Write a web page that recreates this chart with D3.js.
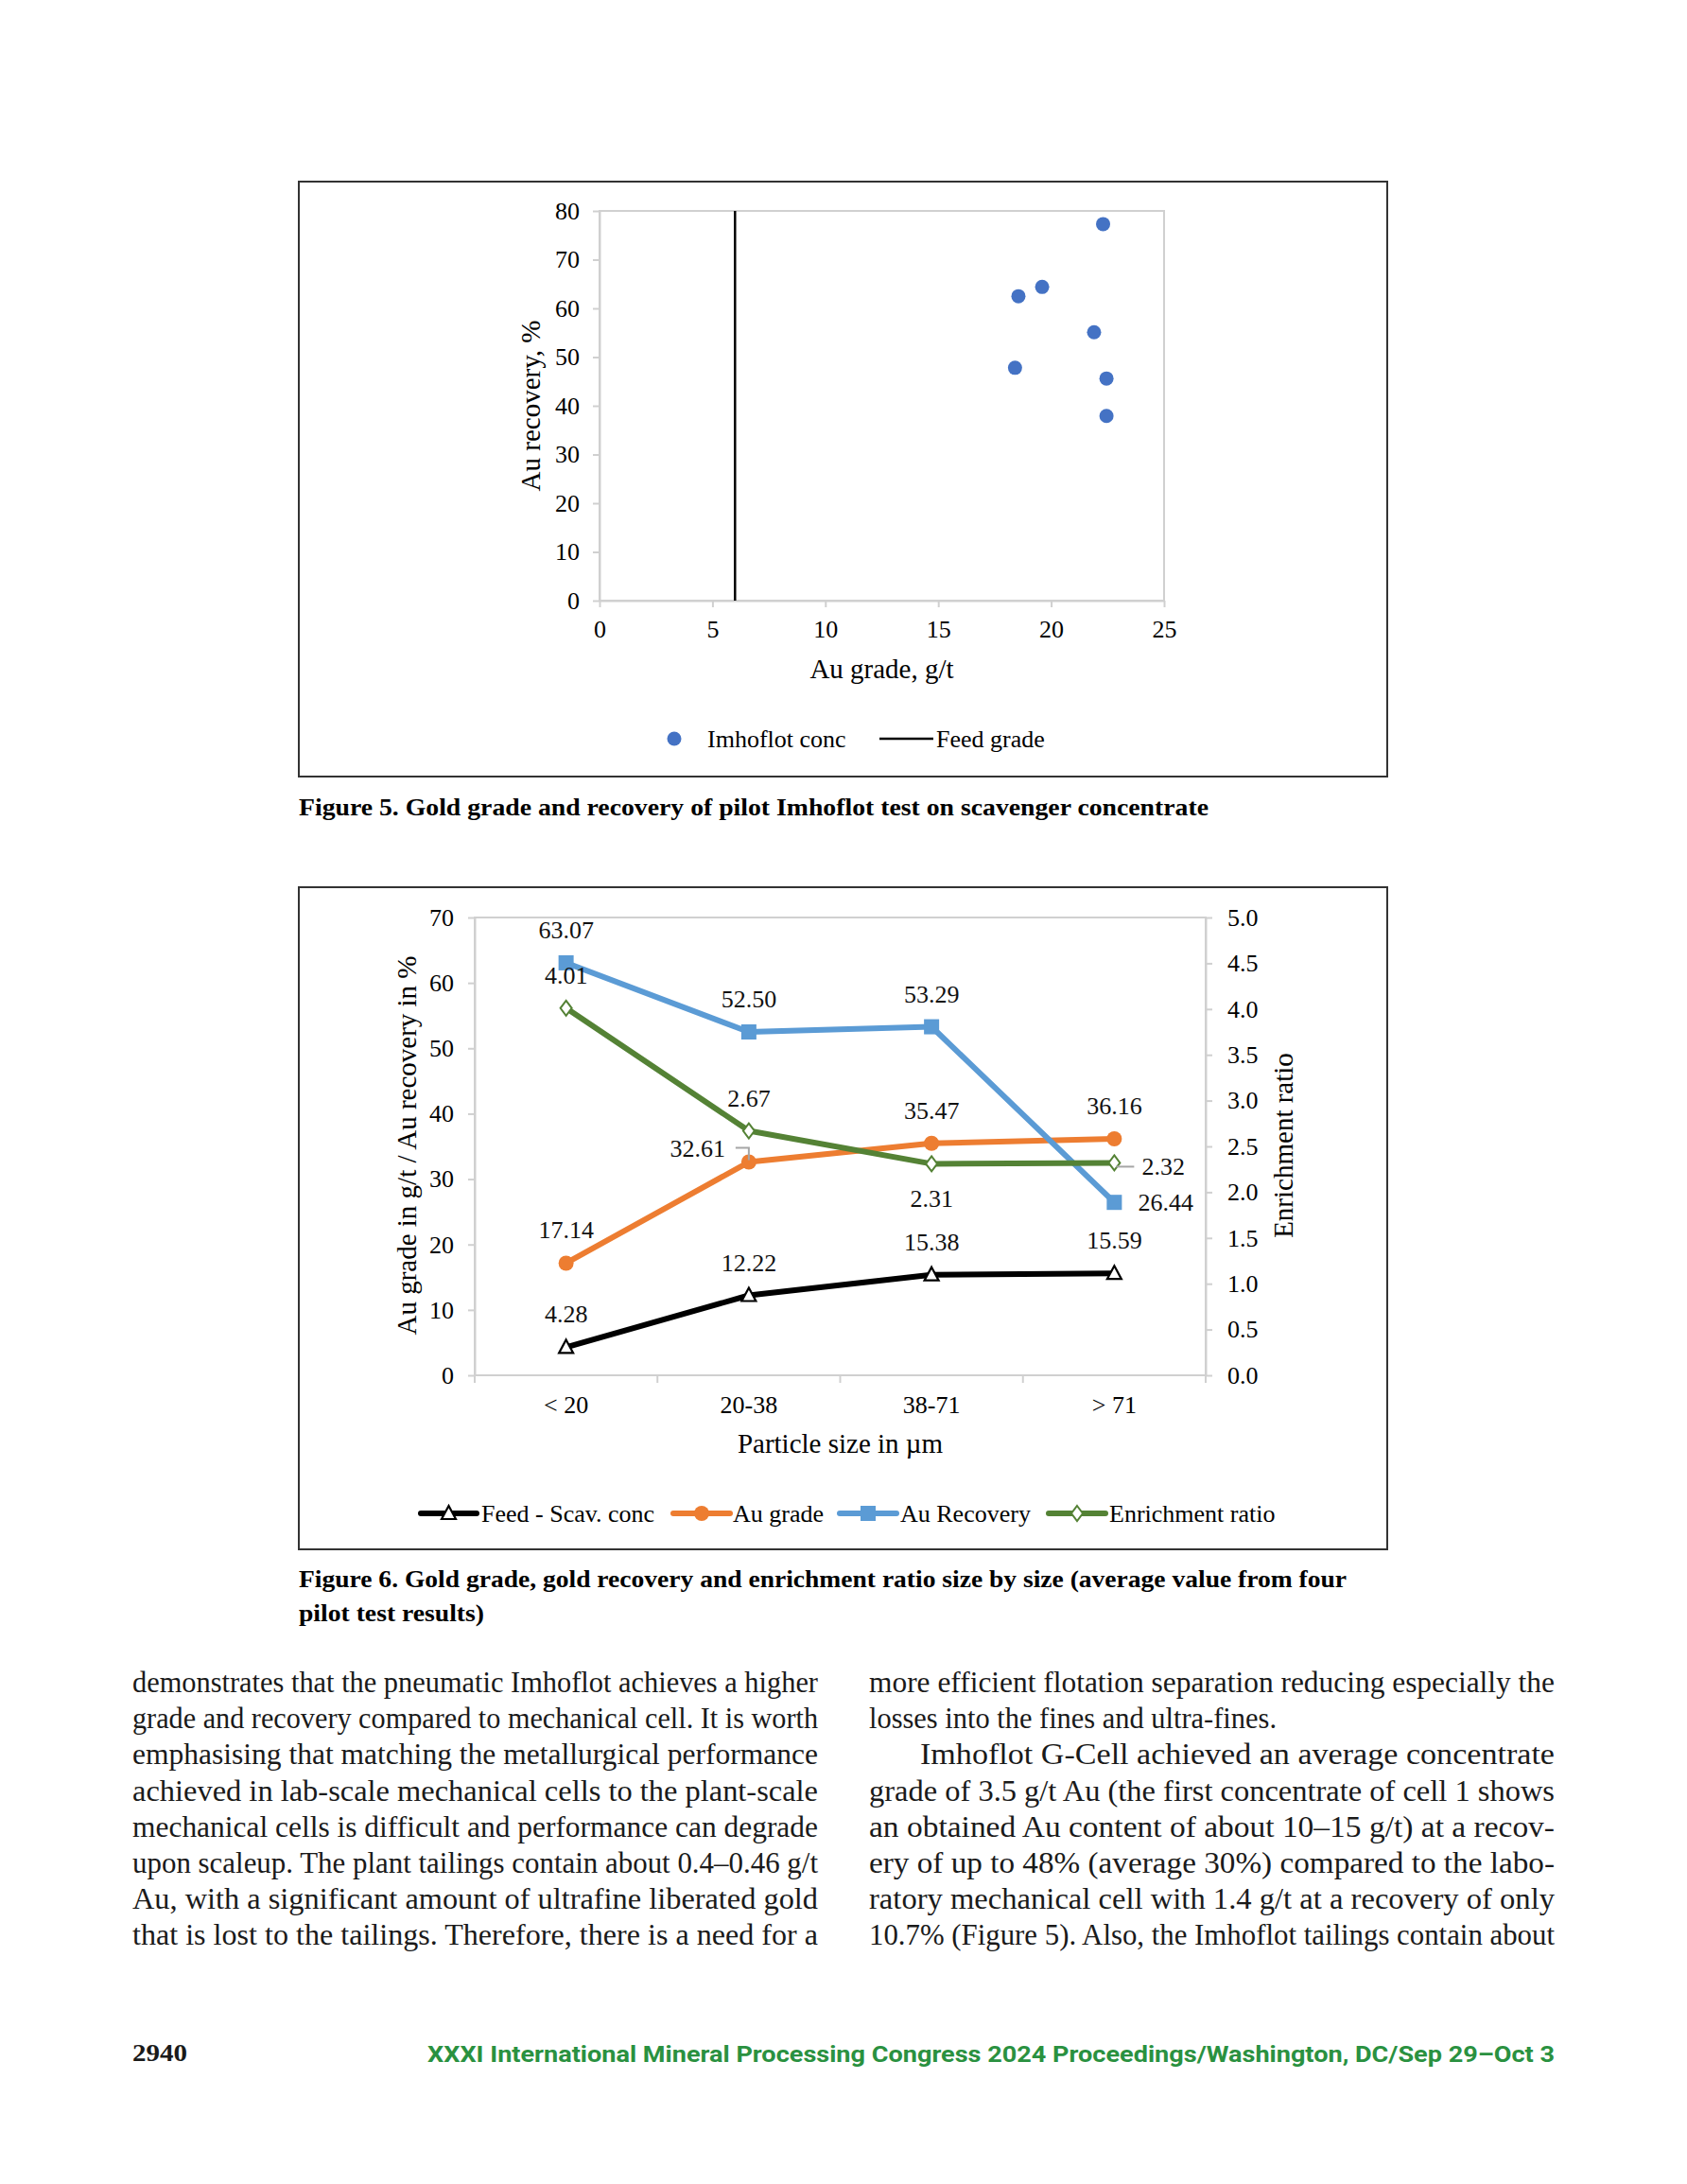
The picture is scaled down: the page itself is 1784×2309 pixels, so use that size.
<!DOCTYPE html>
<html><head><meta charset="utf-8">
<script src="https://cdn.jsdelivr.net/npm/d3@7/dist/d3.min.js"></script>
<style>
html,body{margin:0;padding:0;background:#fff;}
</style></head><body>
<svg id="page" width="1784" height="2309" font-family="'Liberation Serif','Times New Roman',serif"></svg>
<script>
// ---------- Figure 5 data ----------
const fig5Grade    = [22.3, 19.6, 18.55, 21.9, 18.4, 22.45, 22.45];
const fig5Recovery = [77.3, 64.4, 62.5, 55.1, 47.8, 45.6, 37.9];
const fig5FeedGrade = 6.0;
const fig5XTicks = [0, 5, 10, 15, 20, 25];
const fig5YTicks = [0, 10, 20, 30, 40, 50, 60, 70, 80];

// ---------- Figure 6 data ----------
const fig6Sizes      = ["< 20", "20-38", "38-71", "> 71"];
const fig6Feed       = [4.28, 12.22, 15.38, 15.59];
const fig6Grade      = [17.14, 32.61, 35.47, 36.16];
const fig6Recovery   = [63.07, 52.50, 53.29, 26.44];
const fig6Enrichment = [4.01, 2.67, 2.31, 2.32];
const fig6LeftTicks  = [0, 10, 20, 30, 40, 50, 60, 70];
const fig6RightTicks = [0, 0.5, 1, 1.5, 2, 2.5, 3, 3.5, 4, 4.5, 5];

// label placement per point (style only)
const fig6FeedPos       = ["above", "above", "above", "above"];
const fig6GradePos      = ["above", "leftLeader", "above", "above"];
const fig6RecoveryPos   = ["above", "above", "above", "right"];
const fig6EnrichmentPos = ["above", "above", "below", "rightLeader"];

const SERIF = "'Liberation Serif','Times New Roman',serif";
const svg = d3.select("#page");
svg.append("rect").attr("width", 1784).attr("height", 2309).attr("fill", "#fff");

function styleAxis(g, size) {
  g.attr("font-family", SERIF).attr("font-size", size);
  g.selectAll(".domain").attr("stroke", "#d0d0d0").attr("stroke-width", 2);
  g.selectAll(".tick line").attr("stroke", "#d0d0d0").attr("stroke-width", 2);
  g.selectAll(".tick text").attr("fill", "#000");
}

// ================= FIGURE 5 =================
const f5 = {left: 634, right: 1231, top: 223, bottom: 635};
const x5 = d3.scaleLinear().domain([0, 25]).range([f5.left, f5.right]);
const y5 = d3.scaleLinear().domain([0, 80]).range([f5.bottom, f5.top]);

svg.append("rect").attr("x", 316).attr("y", 192).attr("width", 1151).attr("height", 629)
  .attr("fill", "none").attr("stroke", "#333").attr("stroke-width", 2);

svg.append("rect").attr("x", f5.left).attr("y", f5.top)
  .attr("width", f5.right - f5.left).attr("height", f5.bottom - f5.top)
  .attr("fill", "none").attr("stroke", "#d0d0d0").attr("stroke-width", 2);

const gx5 = svg.append("g").attr("transform", `translate(0,${f5.bottom})`)
  .call(d3.axisBottom(x5).tickValues(fig5XTicks).tickSize(7).tickSizeOuter(0).tickPadding(14).tickFormat(d3.format("d")));
styleAxis(gx5, 26);
const gy5 = svg.append("g").attr("transform", `translate(${f5.left},0)`)
  .call(d3.axisLeft(y5).tickValues(fig5YTicks).tickSize(7).tickSizeOuter(0).tickPadding(14).tickFormat(d3.format("d")));
styleAxis(gy5, 26);

// feed grade vertical line
svg.append("line").attr("x1", x5(fig5FeedGrade)).attr("x2", x5(fig5FeedGrade))
  .attr("y1", y5(0)).attr("y2", y5(80)).attr("stroke", "#000").attr("stroke-width", 2.5);

// scatter points
svg.append("g").selectAll("circle").data(fig5Grade.map((g, i) => [g, fig5Recovery[i]]))
  .join("circle").attr("cx", d => x5(d[0])).attr("cy", d => y5(d[1])).attr("r", 7.5)
  .attr("fill", "#4472C4");

svg.append("text").attr("x", (f5.left + f5.right) / 2).attr("y", 717).attr("text-anchor", "middle")
  .attr("font-size", 29).text("Au grade, g/t");
svg.append("text").attr("transform", "translate(571,429) rotate(-90)").attr("text-anchor", "middle")
  .attr("font-size", 29).text("Au recovery, %");

// legend fig 5
svg.append("circle").attr("cx", 713).attr("cy", 781).attr("r", 7.5).attr("fill", "#4472C4");
svg.append("text").attr("x", 748).attr("y", 790).attr("font-size", 26).text("Imhoflot conc");
svg.append("line").attr("x1", 930).attr("x2", 987).attr("y1", 781).attr("y2", 781).attr("stroke", "#000").attr("stroke-width", 2.5);
svg.append("text").attr("x", 990).attr("y", 790).attr("font-size", 26).text("Feed grade");

// caption fig 5
svg.append("text").attr("x", 316).attr("y", 862).attr("font-size", 25).attr("font-weight", "bold")
  .attr("textLength", 962).attr("lengthAdjust", "spacingAndGlyphs")
  .text("Figure 5. Gold grade and recovery of pilot Imhoflot test on scavenger concentrate");

// ================= FIGURE 6 =================
const f6 = {left: 502, right: 1275, top: 970, bottom: 1454};
const x6 = d3.scaleBand().domain(fig6Sizes).range([f6.left, f6.right]).padding(0);
const yL = d3.scaleLinear().domain([0, 70]).range([f6.bottom, f6.top]);
const yR = d3.scaleLinear().domain([0, 5]).range([f6.bottom, f6.top]);
const cx = d => x6(d) + x6.bandwidth() / 2;

svg.append("rect").attr("x", 316).attr("y", 938).attr("width", 1151).attr("height", 700)
  .attr("fill", "none").attr("stroke", "#333").attr("stroke-width", 2);

svg.append("rect").attr("x", f6.left).attr("y", f6.top)
  .attr("width", f6.right - f6.left).attr("height", f6.bottom - f6.top)
  .attr("fill", "none").attr("stroke", "#d0d0d0").attr("stroke-width", 2);

const gl6 = svg.append("g").attr("transform", `translate(${f6.left},0)`)
  .call(d3.axisLeft(yL).tickValues(fig6LeftTicks).tickSize(7).tickSizeOuter(0).tickPadding(15).tickFormat(d3.format("d")));
styleAxis(gl6, 26);
const gr6 = svg.append("g").attr("transform", `translate(${f6.right},0)`)
  .call(d3.axisRight(yR).tickValues(fig6RightTicks).tickSize(7).tickSizeOuter(0).tickPadding(16).tickFormat(d3.format(".1f")));
styleAxis(gr6, 26);
const gb6 = svg.append("g").attr("transform", `translate(0,${f6.bottom})`)
  .call(d3.axisBottom(x6).tickSize(0).tickPadding(22));
styleAxis(gb6, 26);
gb6.select(".domain").remove();
// category boundary ticks
const bounds = fig6Sizes.map(d => x6(d)).concat([f6.right]);
svg.append("g").selectAll("line").data(bounds).join("line")
  .attr("x1", d => d).attr("x2", d => d).attr("y1", f6.bottom).attr("y2", f6.bottom + 8)
  .attr("stroke", "#d0d0d0").attr("stroke-width", 2);

const series = [
  {vals: fig6Feed, y: yL, color: "#000000", marker: "triangle", pos: fig6FeedPos, fmt: ".2f"},
  {vals: fig6Grade, y: yL, color: "#ED7D31", marker: "circle", pos: fig6GradePos, fmt: ".2f"},
  {vals: fig6Recovery, y: yL, color: "#5B9BD5", marker: "square", pos: fig6RecoveryPos, fmt: ".2f"},
  {vals: fig6Enrichment, y: yR, color: "#548235", marker: "diamond", pos: fig6EnrichmentPos, fmt: ".2f"}
];

function drawMarker(g, type, x, y, color) {
  if (type === "circle") {
    g.append("circle").attr("cx", x).attr("cy", y).attr("r", 8).attr("fill", color);
  } else if (type === "square") {
    g.append("rect").attr("x", x - 8).attr("y", y - 8).attr("width", 16).attr("height", 16).attr("fill", color);
  } else if (type === "triangle") {
    g.append("path").attr("d", `M${x},${y - 8}L${x + 7.5},${y + 6}L${x - 7.5},${y + 6}Z`)
      .attr("fill", "#fff").attr("stroke", color).attr("stroke-width", 2.2);
  } else if (type === "diamond") {
    g.append("path").attr("d", `M${x},${y - 8}L${x + 6},${y}L${x},${y + 8}L${x - 6},${y}Z`)
      .attr("fill", "#fff").attr("stroke", color).attr("stroke-width", 2);
  }
}

const lineGen = (s) => d3.line().x((d, i) => cx(fig6Sizes[i])).y(d => s.y(d));
series.forEach(s => {
  svg.append("path").datum(s.vals).attr("d", lineGen(s)).attr("fill", "none")
    .attr("stroke", s.color).attr("stroke-width", 6).attr("stroke-linejoin", "round");
});
series.forEach(s => {
  const g = svg.append("g");
  s.vals.forEach((v, i) => drawMarker(g, s.marker, cx(fig6Sizes[i]), s.y(v), s.color));
});

// data labels
const labG = svg.append("g").attr("font-size", 26).attr("fill", "#111");
series.forEach(s => {
  s.vals.forEach((v, i) => {
    const px = cx(fig6Sizes[i]), py = s.y(v);
    const txt = d3.format(s.fmt)(v);
    const p = s.pos[i];
    if (p === "above") {
      labG.append("text").attr("x", px).attr("y", py - 26).attr("text-anchor", "middle").text(txt);
    } else if (p === "below") {
      labG.append("text").attr("x", px).attr("y", py + 46).attr("text-anchor", "middle").text(txt);
    } else if (p === "right") {
      labG.append("text").attr("x", px + 25).attr("y", py + 9).text(txt);
    } else if (p === "rightLeader") {
      labG.append("text").attr("x", px + 29).attr("y", py + 13).text(txt);
      svg.append("polyline").attr("points", `${px + 2},${py + 4} ${px + 21},${py + 4}`)
        .attr("fill", "none").attr("stroke", "#a6a6a6").attr("stroke-width", 2);
    } else if (p === "leftLeader") {
      labG.append("text").attr("x", px - 25).attr("y", py - 6).attr("text-anchor", "end").text(txt);
      svg.append("polyline").attr("points", `${px - 14},${py - 15} ${px},${py - 15} ${px},${py - 2}`)
        .attr("fill", "none").attr("stroke", "#a6a6a6").attr("stroke-width", 2);
    }
  });
});

// axis titles fig 6
svg.append("text").attr("x", (f6.left + f6.right) / 2).attr("y", 1536).attr("text-anchor", "middle")
  .attr("font-size", 29).text("Particle size in µm");
svg.append("text").attr("transform", "translate(440,1211) rotate(-90)").attr("text-anchor", "middle")
  .attr("font-size", 29).text("Au grade in g/t / Au recovery in %");
svg.append("text").attr("transform", "translate(1367,1211) rotate(-90)").attr("text-anchor", "middle")
  .attr("font-size", 29).text("Enrichment ratio");

// legend fig 6
const leg6 = [
  {name: "Feed - Scav. conc", x0: 445, x1: 504, tx: 509},
  {name: "Au grade", x0: 712, x1: 772, tx: 775},
  {name: "Au Recovery", x0: 888, x1: 948, tx: 952},
  {name: "Enrichment ratio", x0: 1109, x1: 1169, tx: 1173}
];
const legG = svg.append("g");
leg6.forEach((l, i) => {
  const s = series[i];
  legG.append("line").attr("x1", l.x0).attr("x2", l.x1).attr("y1", 1600).attr("y2", 1600)
    .attr("stroke", s.color).attr("stroke-width", 6).attr("stroke-linecap", "round");
  drawMarker(legG, s.marker, (l.x0 + l.x1) / 2, 1600, s.color);
  legG.append("text").attr("x", l.tx).attr("y", 1609).attr("font-size", 26).text(l.name);
});

// caption fig 6
svg.append("text").attr("x", 316).attr("y", 1678).attr("font-size", 25).attr("font-weight", "bold")
  .attr("textLength", 1108).attr("lengthAdjust", "spacingAndGlyphs")
  .text("Figure 6. Gold grade, gold recovery and enrichment ratio size by size (average value from four");
svg.append("text").attr("x", 316).attr("y", 1714).attr("font-size", 25).attr("font-weight", "bold")
  .attr("textLength", 196).attr("lengthAdjust", "spacingAndGlyphs")
  .text("pilot test results)");

// ================= BODY TEXT =================
const leftLines = [
  "demonstrates that the pneumatic Imhoflot achieves a higher",
  "grade and recovery compared to mechanical cell. It is worth",
  "emphasising that matching the metallurgical performance",
  "achieved in lab-scale mechanical cells to the plant-scale",
  "mechanical cells is difficult and performance can degrade",
  "upon scaleup. The plant tailings contain about 0.4–0.46 g/t",
  "Au, with a significant amount of ultrafine liberated gold",
  "that is lost to the tailings. Therefore, there is a need for a"
];
const rightLines = [
  {t: "more efficient flotation separation reducing especially the", x: 919, w: 725},
  {t: "losses into the fines and ultra-fines.", x: 919, w: 431},
  {t: "Imhoflot G-Cell achieved an average concentrate", x: 973, w: 671},
  {t: "grade of 3.5 g/t Au (the first concentrate of cell 1 shows", x: 919, w: 725},
  {t: "an obtained Au content of about 10–15 g/t) at a recov-", x: 919, w: 725},
  {t: "ery of up to 48% (average 30%) compared to the labo-", x: 919, w: 725},
  {t: "ratory mechanical cell with 1.4 g/t at a recovery of only", x: 919, w: 725},
  {t: "10.7% (Figure 5). Also, the Imhoflot tailings contain about", x: 919, w: 725}
];
const bodyG = svg.append("g").attr("font-size", 31).attr("fill", "#1a1a1a");
leftLines.forEach((t, i) => {
  bodyG.append("text").attr("x", 140).attr("y", 1789 + i * 38.2)
    .attr("textLength", 725).attr("lengthAdjust", "spacingAndGlyphs").text(t);
});
rightLines.forEach((l, i) => {
  bodyG.append("text").attr("x", l.x).attr("y", 1789 + i * 38.2)
    .attr("textLength", l.w).attr("lengthAdjust", "spacingAndGlyphs").text(l.t);
});

// ================= FOOTER =================
svg.append("text").attr("x", 140).attr("y", 2179).attr("font-size", 25).attr("font-weight", "bold")
  .attr("textLength", 58).attr("lengthAdjust", "spacingAndGlyphs").attr("fill", "#1a1a1a").text("2940");
svg.append("text").attr("x", 452).attr("y", 2180).attr("font-size", 23.5).attr("font-weight", "bold")
  .attr("font-family", "Roboto, 'Liberation Sans', sans-serif").attr("fill", "#2a9140")
  .attr("textLength", 1192).attr("lengthAdjust", "spacingAndGlyphs")
  .text("XXXI International Mineral Processing Congress 2024 Proceedings/Washington, DC/Sep 29–Oct 3");
</script>
</body></html>
